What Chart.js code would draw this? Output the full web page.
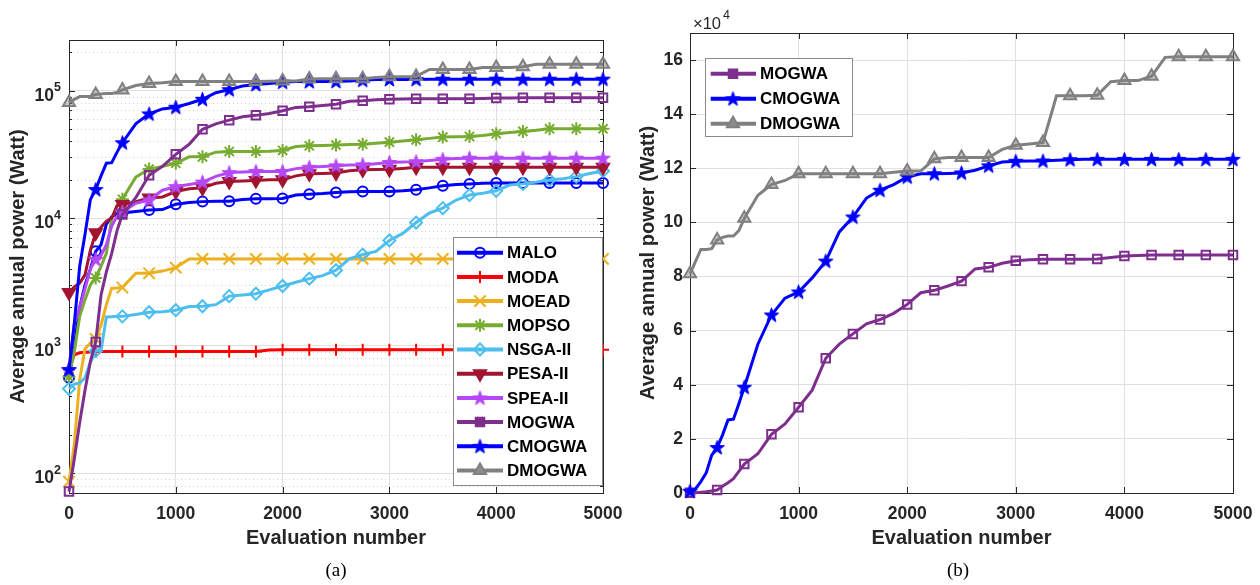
<!DOCTYPE html>
<html>
<head>
<meta charset="utf-8">
<script src="https://cdn.jsdelivr.net/npm/chart.js@4.4.1/dist/chart.umd.min.js"></script>
<style>
  html, body { margin: 0; padding: 0; background: #fff; }
  #page { position: relative; width: 1260px; height: 585px; overflow: hidden; }
  canvas { position: absolute; top: 0; }
  #chartA { left: 0; }
  #chartB { left: 630px; }
  .cap { position: absolute; top: 559px; width: 60px; margin-left: -30px; text-align: center;
         font: 19px "Liberation Serif", "Times New Roman", serif; color: #000; }
</style>
</head>
<body>
<div id="page">
  <canvas id="chartA" width="634" height="560"></canvas>
  <canvas id="chartB" width="634" height="560"></canvas>
  <div class="cap" style="left:336px">(a)</div>
  <div class="cap" style="left:958px">(b)</div>
</div>
<script>
// evaluation numbers the curves were read at (markers every 250)
const evals = [0, 50, 100, 150, 200, 250, 300, 350, 400, 450, 500,
  625, 750, 875, 1000, 1125, 1250, 1375, 1500, 1625, 1750, 1875, 2000,
  2125, 2250, 2375, 2500, 2625, 2750, 2875, 3000, 3125, 3250, 3375, 3500,
  3625, 3750, 3875, 4000, 4125, 4250, 4375, 4500, 4625, 4750, 4875, 5000];

// average annual power (Watt)
const malo = [560, 1000, 2000, 3000, 4000, 5500, 6200, 9000, 10300, 10800, 11000,
  11300, 11600, 11700, 12900, 13300, 13500, 13600, 13600, 14000, 14200, 14200, 14300,
  15200, 15400, 15600, 15900, 16100, 16200, 16200, 16200, 16400, 16700, 17300, 18000,
  18400, 18600, 18800, 18900, 18900, 18900, 18900, 18900, 18900, 18900, 18900, 18900];
const moda = [650, 850, 880, 890, 895, 900, 900, 900, 900, 900, 900,
  900, 900, 900, 900, 900, 900, 900, 900, 900, 900, 925, 930,
  930, 930, 930, 930, 930, 930, 930, 930, 930, 930, 930, 930,
  930, 930, 930, 930, 930, 930, 930, 930, 930, 930, 930, 930];
const moead = [86, 170, 540, 950, 1050, 1130, 1450, 2100, 2830, 2840, 2860,
  3700, 3700, 3850, 4100, 4800, 4800, 4800, 4800, 4800, 4800, 4800, 4800,
  4800, 4800, 4800, 4800, 4800, 4800, 4800, 4800, 4800, 4800, 4800, 4800,
  4800, 4800, 4800, 4800, 4800, 4800, 4800, 4800, 4800, 4800, 4800, 4800];
const mopso = [570, 900, 1700, 2300, 3000, 3400, 4200, 5300, 10000, 12500, 14100,
  21000, 24300, 25500, 27000, 30300, 30300, 33000, 33400, 33400, 33400, 33500, 34000,
  36500, 37000, 37200, 37500, 37800, 38000, 38800, 39500, 40300, 41200, 42300, 43300,
  43500, 43800, 44500, 46000, 47000, 48000, 49000, 50300, 50300, 50300, 50300, 50300];
const nsga2 = [460, 500, 510, 560, 740, 910, 920, 1680, 1690, 1700, 1700,
  1760, 1830, 1850, 1900, 2030, 2040, 2100, 2450, 2500, 2560, 2740, 2940,
  3150, 3360, 3550, 3910, 4800, 5190, 5500, 6700, 7600, 9250, 11000, 12000,
  13900, 15200, 15700, 16400, 18200, 18600, 19200, 20000, 20400, 21200, 22400, 23500];
const pesa2 = [2610, 2900, 3100, 3600, 5600, 7700, 8500, 9500, 10000, 12500, 12800,
  13500, 14400, 14700, 16200, 17000, 17300, 18800, 19400, 19600, 19800, 20000, 20000,
  21500, 22300, 22400, 22600, 23600, 24000, 24100, 24200, 24600, 25100, 25100, 25100,
  25100, 25100, 25100, 25100, 25100, 25100, 25100, 25100, 25100, 25100, 25100, 25100];
const spea2 = [650, 1500, 2000, 2800, 4000, 4760, 5100, 6200, 8700, 10400, 11200,
  13100, 13900, 16600, 17700, 18400, 19200, 21300, 22800, 23100, 23300, 23300, 23300,
  24500, 25100, 25500, 25800, 26100, 26300, 26800, 27400, 27600, 27800, 28400, 29000,
  29400, 29600, 29600, 29600, 29600, 29600, 29600, 29600, 29600, 29600, 29600, 29600];
const mogwa = [72, 130, 250, 450, 750, 1070, 2500, 3800, 5300, 8000, 10700,
  14500, 21700, 25500, 31700, 38000, 49800, 55000, 58800, 62500, 64100, 66400, 69700,
  74000, 74900, 76500, 78300, 82800, 83400, 84900, 85800, 86200, 86400, 86400, 86400,
  86400, 86500, 87000, 87600, 87800, 88000, 88000, 88000, 88000, 88000, 88000, 88000];
const cmogwa = [650, 1500, 4200, 7500, 14000, 16800, 21500, 27000, 27300, 33000, 39100,
  55000, 65800, 72000, 74300, 79500, 85700, 96500, 102000, 109000, 111900, 114000, 116800,
  118000, 118000, 118100, 118300, 119300, 120900, 122300, 122600, 122700, 122700, 123000, 123200,
  123300, 123300, 123300, 123300, 123300, 123300, 123300, 123300, 123300, 123300, 123300, 123300];
const dmogwa = [81000, 85500, 90000, 90000, 90300, 93500, 94500, 95000, 95000, 97000, 101500,
  110000, 114000, 115500, 118000, 118000, 118000, 118000, 118000, 118000, 118000, 118500, 119000,
  119000, 123500, 124000, 124000, 124000, 124000, 127000, 128500, 129000, 129500, 146800, 146800,
  146800, 147000, 152000, 152400, 152400, 154000, 161000, 161200, 161200, 161200, 161200, 161200];

const namesA = ['MALO', 'MODA', 'MOEAD', 'MOPSO', 'NSGA-II', 'PESA-II', 'SPEA-II', 'MOGWA', 'CMOGWA', 'DMOGWA'];
const valuesA = [malo, moda, moead, mopso, nsga2, pesa2, spea2, mogwa, cmogwa, dmogwa];
const namesB = ['MOGWA', 'CMOGWA', 'DMOGWA'];
const valuesB = [mogwa, cmogwa, dmogwa];

const xTicks = [0, 1000, 2000, 3000, 4000, 5000];
const yTicksA = [100, 1000, 10000, 100000];
const yTicksB = [0, 20000, 40000, 60000, 80000, 100000, 120000, 140000, 160000];

const ink = '#262626';
const family = '"Liberation Sans", Arial, Helvetica, sans-serif';
Chart.defaults.font.family = family;

// MATLAB style five point star marker
function pentagram(color) {
  const c = document.createElement('canvas');
  c.width = c.height = 17;
  const g = c.getContext('2d');
  const R = 7.6, r = 3.1, cx = 8.5, cy = 9;
  g.beginPath();
  for (let i = 0; i < 10; i++) {
    const ang = -Math.PI / 2 + i * Math.PI / 5;
    const rr = i % 2 ? r : R;
    g.lineTo(cx + rr * Math.cos(ang), cy + rr * Math.sin(ang));
  }
  g.closePath();
  g.fillStyle = color;
  g.fill();
  g.strokeStyle = color;
  g.lineWidth = 1;
  g.stroke();
  return c;
}

const look = {
  'MALO':    { color: '#0000ff', pointStyle: 'circle', radius: 5 },
  'MODA':    { color: '#ff0000', pointStyle: 'cross', radius: 6 },
  'MOEAD':   { color: '#edb120', pointStyle: 'crossRot', radius: 8 },
  'MOPSO':   { color: '#77ac30', pointStyle: 'star', radius: 6.5 },
  'NSGA-II': { color: '#4dbeee', pointStyle: 'rectRot', radius: 6 },
  'PESA-II': { color: '#a2142f', pointStyle: 'triangle', radius: 7, rotation: 180, face: '#a2142f' },
  'SPEA-II': { color: '#b548f6', pointStyle: pentagram('#b548f6'), radius: 7 },
  'MOGWA':   { color: '#7e2f8e', pointStyle: 'rect', radius: 6, legendFace: '#7e2f8e' },
  'CMOGWA':  { color: '#0000ff', pointStyle: pentagram('#0000ff'), radius: 7 },
  'DMOGWA':  { color: '#808080', pointStyle: 'triangle', radius: 7, face: 'rgba(128,128,128,0.45)', legendFace: '#8c8c8c' }
};

function series(label, values, i, n) {
  const s = look[label];
  return {
    label,
    data: evals.map((x, k) => ({ x, y: values[k] })),
    borderColor: s.color,
    backgroundColor: s.color,
    borderWidth: 3,
    pointStyle: s.pointStyle,
    pointRotation: s.rotation || 0,
    pointRadius: c => (evals[c.dataIndex] % 250 === 0 ? s.radius : 0),
    pointBorderColor: s.color,
    pointBackgroundColor: s.face || 'rgba(255,255,255,0)',
    pointBorderWidth: 2,
    legendFace: s.legendFace || s.face || 'rgba(255,255,255,0)',
    tension: 0,
    fill: false,
    clip: false,
    order: n - i
  };
}

// box, inner tick marks, dotted minor grid, power-of-ten labels, axis exponent
const frame = {
  id: 'frame',
  beforeDatasetsDraw(chart, args, opts) {
    const { ctx, chartArea: a } = chart;
    const xs = chart.scales.x, ys = chart.scales.y;
    ctx.save();
    ctx.lineWidth = 1;
    if (opts.minor) {
      const minors = [];
      for (let e = Math.floor(Math.log10(ys.min)); e <= Math.ceil(Math.log10(ys.max)); e++) {
        for (let k = 2; k <= 9; k++) {
          const v = k * Math.pow(10, e);
          if (v > ys.min && v < ys.max) minors.push(Math.round(ys.getPixelForValue(v)) + 0.5);
        }
      }
      ctx.strokeStyle = '#d2d2d2';
      ctx.setLineDash([1, 3]);
      ctx.beginPath();
      minors.forEach(py => { ctx.moveTo(a.left, py); ctx.lineTo(a.right, py); });
      ctx.stroke();
      ctx.setLineDash([]);
      ctx.strokeStyle = ink;
      ctx.beginPath();
      minors.forEach(py => {
        ctx.moveTo(a.left, py); ctx.lineTo(a.left + 3, py);
        ctx.moveTo(a.right, py); ctx.lineTo(a.right - 3, py);
      });
      ctx.stroke();
    }
    ctx.strokeStyle = ink;
    ctx.beginPath();
    xs.ticks.forEach(t => {
      const px = Math.round(xs.getPixelForValue(t.value)) + 0.5;
      ctx.moveTo(px, a.bottom); ctx.lineTo(px, a.bottom - 6);
      ctx.moveTo(px, a.top); ctx.lineTo(px, a.top + 6);
    });
    ys.ticks.forEach(t => {
      const py = Math.round(ys.getPixelForValue(t.value)) + 0.5;
      ctx.moveTo(a.left, py); ctx.lineTo(a.left + 6, py);
      ctx.moveTo(a.right, py); ctx.lineTo(a.right - 6, py);
    });
    ctx.stroke();
    ctx.strokeRect(Math.round(a.left) + 0.5, Math.round(a.top) + 0.5, Math.round(a.width), Math.round(a.height));
    ctx.fillStyle = ink;
    if (opts.powers) {
      ys.ticks.forEach(t => {
        const py = ys.getPixelForValue(t.value);
        const ex = String(Math.round(Math.log10(t.value)));
        ctx.font = 'bold 12.5px ' + family;
        ctx.textAlign = 'right';
        ctx.textBaseline = 'middle';
        const ew = ctx.measureText(ex).width;
        ctx.fillText(ex, a.left - 8, py - 3);
        ctx.font = 'bold 17.5px ' + family;
        ctx.fillText('10', a.left - 8 - ew, py + 5);
      });
    }
    if (opts.exponent) {
      ctx.textAlign = 'left';
      ctx.textBaseline = 'alphabetic';
      ctx.font = '16.5px ' + family;
      ctx.fillText('\u00d710', a.left + 3, a.top - 4);
      const w = ctx.measureText('\u00d710').width;
      ctx.font = '12.5px ' + family;
      ctx.fillText(opts.exponent, a.left + 5 + w, a.top - 14);
    }
    ctx.restore();
  }
};

// framed legend drawn over the curves
const boxLegend = {
  id: 'boxLegend',
  afterDatasetsDraw(chart, args, o) {
    const { ctx, chartArea: a } = chart;
    const sets = chart.data.datasets;
    const h = o.padTop + o.padBottom + o.rowH * (sets.length - 1);
    const left = o.corner === 'br' ? a.right - o.dx - o.width : a.left + o.dx;
    const top = o.corner === 'br' ? a.bottom - o.dy - h : a.top + o.dy;
    ctx.save();
    ctx.fillStyle = '#fff';
    ctx.fillRect(left, top, o.width, h);
    ctx.strokeStyle = '#8a8a8a';
    ctx.lineWidth = 1;
    ctx.strokeRect(Math.round(left) + 0.5, Math.round(top) + 0.5, Math.round(o.width), Math.round(h));
    sets.forEach((ds, i) => {
      const cy = top + o.padTop + i * o.rowH;
      ctx.strokeStyle = ds.borderColor;
      ctx.lineWidth = 4;
      ctx.beginPath();
      ctx.moveTo(left + o.lineX0, cy);
      ctx.lineTo(left + o.lineX1, cy);
      ctx.stroke();
      ctx.lineWidth = 2;
      ctx.fillStyle = ds.legendFace;
      Chart.helpers.drawPoint(ctx, {
        pointStyle: ds.pointStyle, rotation: ds.pointRotation,
        radius: look[ds.label].radius, borderWidth: 2
      }, left + o.markX, cy);
      ctx.fillStyle = '#000';
      ctx.font = 'bold 17px ' + family;
      ctx.textBaseline = 'middle';
      ctx.fillText(ds.label, left + o.textX, cy + 1);
    });
    ctx.restore();
  }
};

function xAxis() {
  return {
    type: 'linear', min: 0, max: 5000,
    afterBuildTicks: s => { s.ticks = xTicks.map(v => ({ value: v })); },
    afterFit: s => { s.height = 67; },
    grid: { color: '#e0e0e0', drawTicks: false },
    border: { display: false },
    ticks: { color: ink, padding: 11, autoSkip: false, maxRotation: 0,
             font: { size: 17.5, weight: 'bold' }, callback: v => String(v) },
    title: { display: true, text: 'Evaluation number', color: ink,
             font: { size: 20, weight: 'bold' }, padding: { top: 0, bottom: 10 } }
  };
}

function yTitle() {
  return { display: true, text: 'Average annual power (Watt)', color: ink,
           font: { size: 20, weight: 'bold' }, padding: { top: 6, bottom: 0 } };
}

new Chart(document.getElementById('chartA'), {
  type: 'line',
  data: { datasets: namesA.map((n, i) => series(n, valuesA[i], i, namesA.length)) },
  options: {
    responsive: false, animation: false, events: [],
    layout: { padding: { left: 0, top: 40, right: 31, bottom: 0 } },
    plugins: {
      legend: { display: false }, tooltip: { enabled: false },
      frame: { minor: true, powers: true },
      boxLegend: { corner: 'br', dx: 1, dy: 8, width: 149, rowH: 24.2, padTop: 15.5, padBottom: 14.5,
                   lineX0: 4, lineX1: 50, markX: 27, textX: 54 }
    },
    scales: {
      x: xAxis(),
      y: {
        type: 'logarithmic', min: 70, max: 250000,
        afterBuildTicks: s => { s.ticks = yTicksA.map(v => ({ value: v })); },
        afterFit: s => { s.width = 69; },
        grid: { color: '#e0e0e0', drawTicks: false },
        border: { display: false },
        ticks: { display: false, autoSkip: false },
        title: yTitle()
      }
    }
  },
  plugins: [frame, boxLegend]
});

new Chart(document.getElementById('chartB'), {
  type: 'line',
  data: { datasets: namesB.map((n, i) => series(n, valuesB[i], i, namesB.length)) },
  options: {
    responsive: false, animation: false, events: [],
    layout: { padding: { left: 0, top: 33, right: 31, bottom: 0 } },
    plugins: {
      legend: { display: false }, tooltip: { enabled: false },
      frame: { exponent: '4' },
      boxLegend: { corner: 'tl', dx: 15, dy: 25, width: 147, rowH: 25, padTop: 15.7, padBottom: 12.7,
                   lineX0: 5.7, lineX1: 51, markX: 28, textX: 55 }
    },
    scales: {
      x: xAxis(),
      y: {
        type: 'linear', min: 0, max: 170000,
        afterBuildTicks: s => { s.ticks = yTicksB.map(v => ({ value: v })); },
        afterFit: s => { s.width = 60; },
        grid: { color: '#e0e0e0', drawTicks: false },
        border: { display: false },
        ticks: { color: ink, padding: 7, autoSkip: false, font: { size: 17.5, weight: 'bold' },
                 callback: v => String(v / 10000) },
        title: yTitle()
      }
    }
  },
  plugins: [frame, boxLegend]
});
</script>
</body>
</html>
